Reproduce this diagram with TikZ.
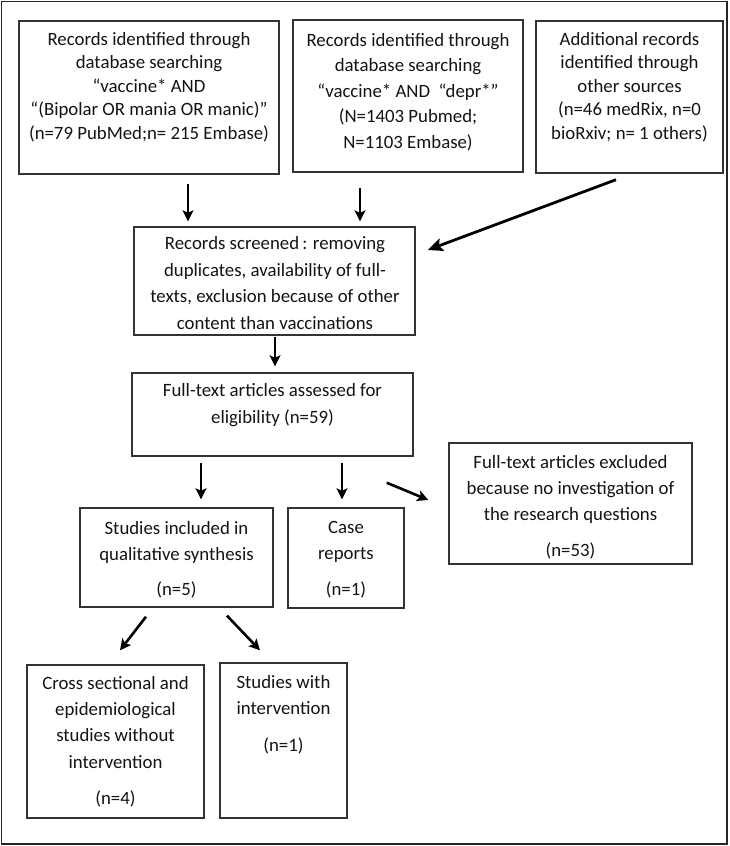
\documentclass[tikz,border=0pt]{standalone}
\usepackage{fontspec}
\setmainfont{Carlito}
\usetikzlibrary{arrows.meta}
\begin{document}
\begin{tikzpicture}[x=1pt,y=-1pt,
  box/.style={draw=black!80, line width=1.4pt, inner sep=0pt, fill=white},
  txt/.style={align=center, inner sep=0pt, text=black!92, font=\fontsize{18.8pt}{26pt}\selectfont},
  tight/.style={font=\fontsize{18.8pt}{23.5pt}\selectfont},
  arr/.style={line width=2.6pt, -{Stealth[length=11pt,width=11pt,inset=2.5pt]}},
  bigarr/.style={line width=2.8pt, -{Stealth[length=15pt,width=13pt,inset=3pt]}}]
\useasboundingbox (0,0) rectangle (729,846);
\fill[white] (0,0) rectangle (729,846);
\draw[black!85, line width=1.5pt] (1.5,1.5) rectangle (727,844);

% boxes
\node[box, minimum width=260pt, minimum height=153pt] (A) at (149,97.5) {};
\node[box, minimum width=230pt, minimum height=152pt] (B) at (408,96) {};
\node[box, minimum width=187pt, minimum height=152pt] (C) at (629.5,97) {};
\node[box, minimum width=281pt, minimum height=108pt] (S) at (274.5,281) {};
\node[box, minimum width=281pt, minimum height=83pt] (F) at (272.5,414.5) {};
\node[box, minimum width=243pt, minimum height=121pt] (E) at (570.5,503.5) {};
\node[box, minimum width=193pt, minimum height=99pt] (St) at (176.5,557.5) {};
\node[box, minimum width=116pt, minimum height=100pt] (Ca) at (346,558) {};
\node[box, minimum width=177pt, minimum height=153pt] (Cr) at (115.5,741.5) {};
\node[box, minimum width=127pt, minimum height=155pt] (In) at (283.5,740.5) {};

% texts
\node[txt, tight] (At) at (149,87) {Records identified through\\database searching\\“vaccine* AND\\“(Bipolar OR mania OR manic)”\\(n=79 PubMed;n= 215 Embase)};
\node[txt, font=\fontsize{18.8pt}{25.5pt}\selectfont] (Bt) at (408,92) {Records identified through\\database searching\\“vaccine* AND\ \ “depr*”\\(N=1403 Pubmed;\\N=1103 Embase)};
\node[txt, tight] (Ct) at (629.5,87) {Additional records\\identified through\\other sources\\(n=46 medRix, n=0\\bioRxiv; n= 1 others)};
\node[txt, font=\fontsize{18.8pt}{26.7pt}\selectfont] (St0) at (275,283) {Records screened\thinspace: removing\\duplicates, availability of full-\\texts, exclusion because of other\\content than vaccinations};
\node[txt, font=\fontsize{18.8pt}{27pt}\selectfont] (Ft) at (272.5,405.5) {Full-text articles assessed for\\eligibility (n=59)};
\node[txt] (Et) at (570.5,507) {Full-text articles excluded\\because no investigation of\\the research questions\\[10pt](n=53)};
\node[txt] (Stt) at (176.5,559.5) {Studies included in\\qualitative synthesis\\[9pt](n=5)};
\node[txt] (Cat) at (346,560) {Case\\reports\\[10pt](n=1)};
\node[txt, font=\fontsize{18.8pt}{26.3pt}\selectfont] (Crt) at (115.5,741.5) {Cross sectional and\\epidemiological\\studies without\\intervention\\[10pt](n=4)};
\node[txt] (Int) at (283.5,714.5) {Studies with\\intervention\\[11pt](n=1)};

% arrows
\draw[arr] ([xshift=39pt,yshift=-9pt]A.south) -- ([xshift=-86.5pt,yshift=5pt]S.north);
\draw[arr] ([xshift=-48pt,yshift=-15pt]B.south) -- ([xshift=85.5pt,yshift=5pt]S.north);
\draw[bigarr] ([xshift=-13.5pt,yshift=-6pt]C.south) -- ([xshift=12pt,yshift=31pt]S.east);
\draw[arr] ([xshift=0.5pt,yshift=-1pt]S.south) -- ([xshift=2.5pt,yshift=6pt]F.north);
\draw[arr] ([xshift=-71.5pt,yshift=-6pt]F.south) -- ([xshift=24.5pt,yshift=8pt]St.north);
\draw[arr] ([xshift=69.5pt,yshift=-6pt]F.south) -- ([xshift=-4pt,yshift=8pt]Ca.north);
\draw[arr] ([xshift=-27pt,yshift=-26pt]F.south east) -- ([xshift=-20pt,yshift=3.5pt]E.west);
\draw[arr] ([xshift=-30.5pt,yshift=-9pt]St.south) -- ([xshift=4.5pt,yshift=14pt]Cr.north);
\draw[arr] ([xshift=50.5pt,yshift=-8pt]St.south) -- ([xshift=-23.5pt,yshift=12pt]In.north);
\end{tikzpicture}
\end{document}
